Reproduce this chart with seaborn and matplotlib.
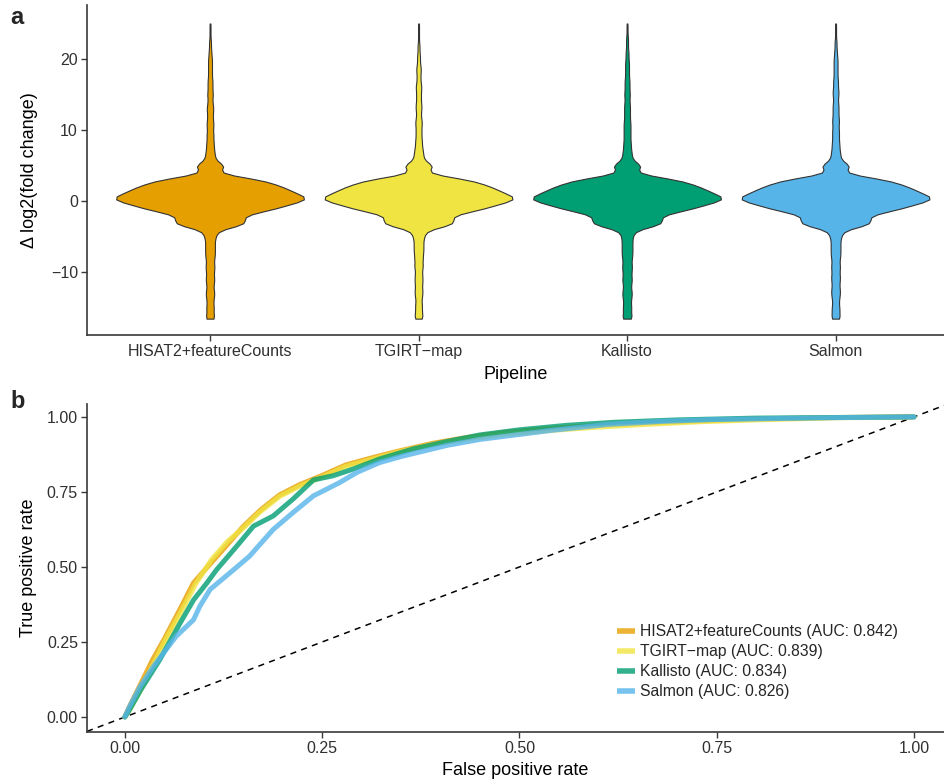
import numpy as np
import pandas as pd
import matplotlib
matplotlib.use("Agg")
import matplotlib.pyplot as plt
import seaborn as sns
from matplotlib.lines import Line2D

# ---------------- data ----------------
pipelines = ["HISAT2+featureCounts", "TGIRT\u2212map", "Kallisto", "Salmon"]
colors = ["#E69F00", "#F0E442", "#009E73", "#56B4E9"]
auc = ["0.842", "0.839", "0.834", "0.826"]

# Δ log2(fold change) distributions, read as counts in 0.5-wide bins (-16.5 ... 25)
dlfc_bins = np.arange(-16.5, 25.25, 0.5)
hisat_counts = [9, 8, 7, 8, 7, 7, 8, 9, 8, 7, 8, 9, 8, 8, 9, 9, 8, 9, 10, 10, 10,
                10, 10, 12, 14, 24, 56, 74, 70, 74, 104, 136, 160, 188, 200, 182, 166,
                150, 130, 104, 56, 22, 24, 30, 18, 11, 10,
                9, 8, 8, 7, 7, 7, 6, 7, 7, 6, 6, 6, 7, 6, 5, 5, 6, 5, 5, 5,
                5, 4, 4, 4, 4, 4, 4, 3, 3, 2, 2, 2, 1, 1, 1, 1, 1]
tgirt_counts = [8, 8, 7, 7, 7, 6, 7, 8, 8, 7, 8, 8, 8, 7, 8, 9, 8, 9, 9, 10, 10,
                10, 10, 12, 14, 24, 56, 74, 70, 74, 104, 136, 160, 188, 200, 182, 166,
                150, 130, 104, 56, 22, 24, 30, 18, 11, 10,
                9, 8, 7, 7, 6, 6, 6, 6, 7, 6, 5, 5, 6, 6, 5, 5, 5, 5, 6, 5,
                4, 4, 4, 5, 4, 3, 3, 3, 2, 2, 2, 1, 1, 1, 1, 1, 1]
kallisto_counts = [10, 9, 8, 9, 8, 8, 9, 10, 9, 8, 9, 10, 9, 9, 10, 10, 9, 10, 11, 11, 11,
                   11, 11, 12, 14, 24, 56, 74, 70, 74, 104, 136, 160, 188, 200, 182, 166,
                   150, 130, 104, 56, 22, 24, 30, 18, 11, 10,
                   9, 8, 8, 7, 7, 7, 7, 7, 7, 6, 6, 6, 6, 6, 5, 5, 6, 5, 5, 5,
                   5, 4, 4, 4, 4, 4, 3, 3, 3, 2, 2, 2, 2, 1, 1, 1, 1]
salmon_counts = [9, 8, 8, 8, 7, 7, 8, 9, 9, 8, 8, 9, 9, 8, 9, 9, 8, 9, 10, 10, 10,
                 10, 10, 12, 14, 24, 56, 74, 70, 74, 104, 136, 160, 188, 200, 182, 166,
                 150, 130, 104, 56, 22, 24, 30, 18, 11, 10,
                 9, 8, 8, 7, 7, 7, 7, 6, 7, 7, 6, 6, 6, 6, 5, 5, 6, 6, 5, 5,
                 5, 4, 4, 4, 4, 4, 4, 3, 3, 2, 2, 2, 1, 1, 1, 1, 1]

# ROC curves (false / true positive rate)
hisat_fpr = [0, 0.005, 0.02, 0.035, 0.05, 0.07, 0.087, 0.108, 0.12, 0.15, 0.172, 0.196, 0.222,
             0.25, 0.28, 0.315, 0.345, 0.39, 0.43, 0.48, 0.54, 0.6, 0.66, 0.73, 0.8, 0.9, 1.0]
hisat_tpr = [0, 0.03, 0.11, 0.19, 0.26, 0.36, 0.447, 0.51, 0.545, 0.635, 0.69, 0.74, 0.775,
             0.805, 0.84, 0.865, 0.885, 0.912, 0.93, 0.948, 0.962, 0.972, 0.98, 0.987, 0.993, 0.998, 1.0]
tgirt_fpr = [0, 0.005, 0.02, 0.035, 0.05, 0.07, 0.09, 0.11, 0.13, 0.15, 0.172, 0.196, 0.222,
             0.25, 0.28, 0.315, 0.345, 0.39, 0.43, 0.48, 0.54, 0.6, 0.66, 0.73, 0.8, 0.9, 1.0]
tgirt_tpr = [0, 0.02, 0.09, 0.17, 0.25, 0.345, 0.445, 0.525, 0.585, 0.63, 0.685, 0.735, 0.77,
             0.8, 0.835, 0.86, 0.882, 0.908, 0.925, 0.942, 0.955, 0.966, 0.975, 0.984, 0.99, 0.997, 1.0]
kallisto_fpr = [0, 0.005, 0.02, 0.044, 0.07, 0.087, 0.104, 0.116, 0.142, 0.163, 0.188, 0.213,
                0.239, 0.264, 0.289, 0.323, 0.365, 0.408, 0.45, 0.5, 0.56, 0.62, 0.7, 0.8, 0.9, 1.0]
kallisto_tpr = [0, 0.02, 0.09, 0.19, 0.313, 0.39, 0.447, 0.49, 0.57, 0.636, 0.67, 0.726,
                0.79, 0.804, 0.826, 0.86, 0.893, 0.918, 0.94, 0.957, 0.972, 0.982, 0.99, 0.996, 0.998, 1.0]
salmon_fpr = [0, 0.005, 0.019, 0.036, 0.065, 0.087, 0.095, 0.108, 0.142, 0.158, 0.188, 0.213,
              0.239, 0.272, 0.294, 0.323, 0.35, 0.408, 0.45, 0.48, 0.54, 0.612, 0.68, 0.744, 0.877, 1.0]
salmon_tpr = [0, 0.03, 0.10, 0.168, 0.269, 0.324, 0.369, 0.425, 0.50, 0.536, 0.625, 0.681,
              0.737, 0.781, 0.815, 0.848, 0.868, 0.905, 0.925, 0.935, 0.955, 0.975, 0.985, 0.991, 0.997, 1.0]

# ---------------- style ----------------
sns.set_style("ticks")
plt.rcParams["font.family"] = ["Liberation Sans", "DejaVu Sans"]
plt.rcParams["axes.unicode_minus"] = True
axcol = "#3a3a3a"
txtcol = "#303030"

fig = plt.figure(figsize=(9.44, 7.82), dpi=100)
ax_a = fig.add_axes([87 / 944, 1 - 335 / 782, 857 / 944, 330 / 782])
ax_b = fig.add_axes([87 / 944, 1 - 732 / 782, 857 / 944, 328 / 782])

# ---------------- panel a: violins ----------------
counts_all = [hisat_counts, tgirt_counts, kallisto_counts, salmon_counts]
frames = []
for name, cnt in zip(pipelines, counts_all):
    frames.append(pd.DataFrame({"pipeline": name,
                                "dlfc": np.repeat(dlfc_bins, cnt)}))
vdf = pd.concat(frames, ignore_index=True)

sns.violinplot(data=vdf, x="pipeline", y="dlfc", hue="pipeline", order=pipelines,
               hue_order=pipelines, palette=colors, inner=None, cut=0,
               density_norm="width", width=0.9, bw_adjust=0.28, linewidth=0.8,
               linecolor="#333333", saturation=1, legend=False, ax=ax_a)
ax_a.set_xlim(-0.59, 3.52)
ax_a.set_ylim(-18.8, 27.6)
ax_a.set_yticks([-10, 0, 10, 20])
ax_a.set_xlabel("Pipeline", fontsize=13, color="black", labelpad=5)
ax_a.set_ylabel("\u0394 log2(fold change)", fontsize=13, color="black", labelpad=9)

# ---------------- panel b: ROC ----------------
fprs = [hisat_fpr, tgirt_fpr, kallisto_fpr, salmon_fpr]
tprs = [hisat_tpr, tgirt_tpr, kallisto_tpr, salmon_tpr]
labels = [f"{p} (AUC: {a})" for p, a in zip(pipelines, auc)]
rframes = []
for lab, f, t in zip(labels, fprs, tprs):
    rframes.append(pd.DataFrame({"pipeline": lab, "fpr": f, "tpr": t}))
rdf = pd.concat(rframes, ignore_index=True)

ax_b.axline((0, 0), slope=1, color="black", lw=1.1, ls=(0, (4, 3.5)), zorder=1)
sns.lineplot(data=rdf, x="fpr", y="tpr", hue="pipeline", hue_order=labels,
             palette=colors, linewidth=3.6, alpha=0.8, estimator=None, sort=False,
             legend=False, ax=ax_b, zorder=2)
ax_b.set_xlim(-0.048, 1.038)
ax_b.set_ylim(-0.05, 1.043)
ax_b.set_xticks([0, 0.25, 0.5, 0.75, 1.0])
ax_b.set_yticks([0, 0.25, 0.5, 0.75, 1.0])
ax_b.set_xticklabels(["0.00", "0.25", "0.50", "0.75", "1.00"])
ax_b.set_yticklabels(["0.00", "0.25", "0.50", "0.75", "1.00"])
ax_b.set_xlabel("False positive rate", fontsize=13, color="black", labelpad=4)
ax_b.set_ylabel("True positive rate", fontsize=13, color="black", labelpad=7)

handles = [Line2D([0], [0], color=c, lw=4, alpha=0.8, solid_capstyle="butt") for c in colors]
ax_b.legend(handles, labels, loc="upper left", bbox_to_anchor=(0.618, 0.328),
            frameon=False, fontsize=11.3, handlelength=1.15, handletextpad=0.35,
            labelspacing=0.31, borderpad=0, borderaxespad=0)

for ax in (ax_a, ax_b):
    sns.despine(ax=ax)
    for s in ("left", "bottom"):
        ax.spines[s].set_color(axcol)
        ax.spines[s].set_linewidth(1.2)
    ax.tick_params(axis="both", direction="out", length=4, width=1.0, color=axcol,
                   labelsize=11.5, labelcolor=txtcol, pad=2.5)

fig.text(10 / 944, 1 - 18 / 782, "a", fontsize=17, fontweight="bold", va="center")
fig.text(10 / 944, 1 - 402 / 782, "b", fontsize=17, fontweight="bold", va="center")

fig.savefig("out.png", dpi=100)
